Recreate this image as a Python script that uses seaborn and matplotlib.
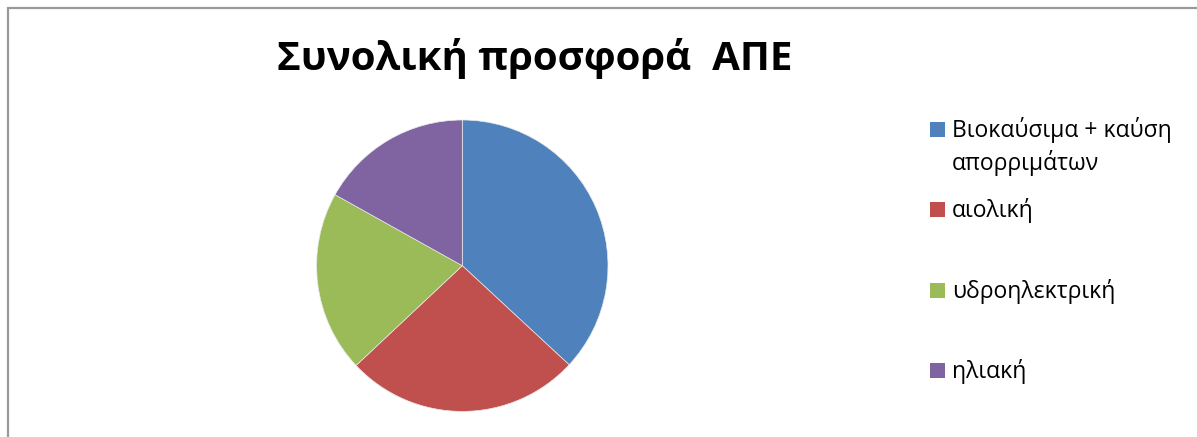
import matplotlib
matplotlib.use('Agg')
import matplotlib.pyplot as plt
import matplotlib.patches as mpatches
import seaborn as sns

# data
labels = ['Βιοκαύσιμα + καύση\nαπορριμάτων', 'αιολική', 'υδροηλεκτρική', 'ηλιακή']
shares = [36.9, 26.1, 20.1, 16.9]
colors = ['#4F81BD', '#C0504D', '#9BBB59', '#8064A2']
title = 'Συνολική προσφορά  ΑΠΕ'

sns.set_theme(style='white')
plt.rcParams['font.family'] = ['Open Sans', 'DejaVu Sans']

W, H = 1197, 437
fig = plt.figure(figsize=(W / 100, H / 100), dpi=100)
fig.patch.set_facecolor('white')

# chart area border (gray, cut off at right/bottom)
fig.patches.append(mpatches.Rectangle((8 / W, -0.05), 1.1, (H - 8) / H + 0.05,
                                      transform=fig.transFigure, fill=False,
                                      edgecolor='#999999', linewidth=1.6))

# pie
cx, cy, r = 462.3, 265.7, 145.7
ax = fig.add_axes([(cx - r) / W, (H - cy - r) / H, 2 * r / W, 2 * r / H])
wedges, _ = ax.pie(shares, colors=colors, startangle=90, counterclock=False,
                   radius=1, wedgeprops=dict(linewidth=0.5, edgecolor='#e8e8e8'))
ax.set_xlim(-1, 1)
ax.set_ylim(-1, 1)
ax.set_aspect('equal')
ax.axis('off')

fig.text(535 / W, 1 - 70 / H, title, ha='center', va='baseline',
         fontsize=29, fontweight='bold', color='black')

# legend, Excel-style spacing
marker_tops = [121.7, 201.7, 282.7, 363.3]
for lab, col, top in zip(labels, colors, marker_tops):
    fig.patches.append(mpatches.Rectangle((930 / W, 1 - (top + 15) / H), 15 / W, 15 / H,
                                          transform=fig.transFigure, facecolor=col,
                                          edgecolor='none'))
    for i, line in enumerate(lab.split('\n')):
        fig.text(952 / W, 1 - (top + 15 + 33 * i) / H, line, ha='left', va='baseline',
                 fontsize=16.5, color='black')

fig.savefig('out.png', dpi=100)
